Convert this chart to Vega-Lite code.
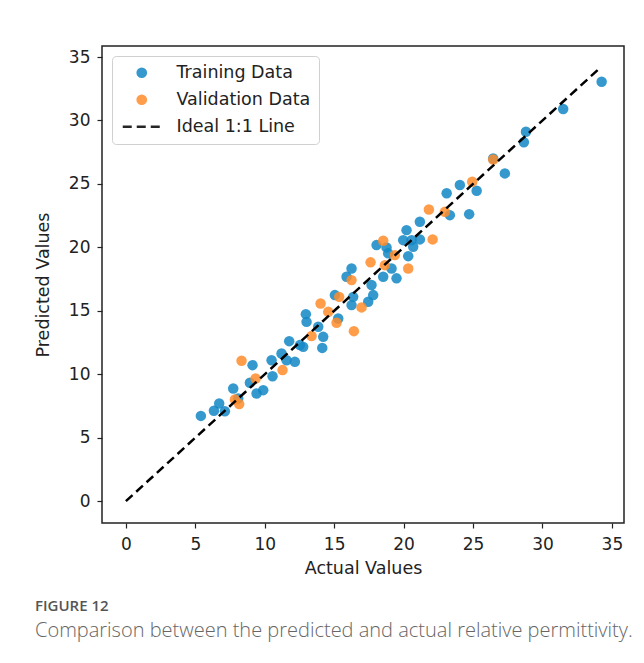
{
  "$schema": "https://vega.github.io/schema/vega-lite/v6.json",
  "autosize": "none",
  "width": 522,
  "height": 477,
  "padding": {"left": 102, "top": 46, "right": 20, "bottom": 140},
  "background": "white",
  "title": {
    "text": "FIGURE 12",
    "subtitle": "Comparison between the predicted and actual relative permittivity.",
    "orient": "bottom",
    "anchor": "start",
    "frame": "group",
    "dx": -67,
    "offset": 22,
    "font": "Open Sans",
    "fontSize": 15,
    "fontWeight": 600,
    "color": "#555555",
    "subtitleFont": "Open Sans",
    "subtitleFontSize": 20,
    "subtitleFontWeight": 300,
    "subtitleColor": "#666666",
    "subtitlePadding": 7
  },
  "datasets": {
    "pts": [
      {"actual": 5.40, "predicted": 6.72, "series": "Training Data"},
      {"actual": 6.34, "predicted": 7.12, "series": "Training Data"},
      {"actual": 6.72, "predicted": 7.70, "series": "Training Data"},
      {"actual": 7.13, "predicted": 7.09, "series": "Training Data"},
      {"actual": 7.73, "predicted": 8.88, "series": "Training Data"},
      {"actual": 8.09, "predicted": 8.10, "series": "Training Data"},
      {"actual": 8.93, "predicted": 9.33, "series": "Training Data"},
      {"actual": 9.12, "predicted": 10.72, "series": "Training Data"},
      {"actual": 9.41, "predicted": 8.49, "series": "Training Data"},
      {"actual": 9.89, "predicted": 8.75, "series": "Training Data"},
      {"actual": 10.49, "predicted": 11.11, "series": "Training Data"},
      {"actual": 10.56, "predicted": 9.85, "series": "Training Data"},
      {"actual": 11.21, "predicted": 11.64, "series": "Training Data"},
      {"actual": 11.57, "predicted": 11.11, "series": "Training Data"},
      {"actual": 11.76, "predicted": 12.61, "series": "Training Data"},
      {"actual": 12.17, "predicted": 10.98, "series": "Training Data"},
      {"actual": 12.77, "predicted": 12.16, "series": "Training Data"},
      {"actual": 12.53, "predicted": 12.30, "series": "Training Data"},
      {"actual": 12.96, "predicted": 14.74, "series": "Training Data"},
      {"actual": 13.01, "predicted": 14.13, "series": "Training Data"},
      {"actual": 13.85, "predicted": 13.74, "series": "Training Data"},
      {"actual": 14.14, "predicted": 12.08, "series": "Training Data"},
      {"actual": 14.21, "predicted": 12.95, "series": "Training Data"},
      {"actual": 15.29, "predicted": 14.40, "series": "Training Data"},
      {"actual": 15.05, "predicted": 16.24, "series": "Training Data"},
      {"actual": 16.25, "predicted": 18.34, "series": "Training Data"},
      {"actual": 15.89, "predicted": 17.68, "series": "Training Data"},
      {"actual": 16.25, "predicted": 15.45, "series": "Training Data"},
      {"actual": 16.37, "predicted": 16.10, "series": "Training Data"},
      {"actual": 17.69, "predicted": 17.03, "series": "Training Data"},
      {"actual": 17.81, "predicted": 16.24, "series": "Training Data"},
      {"actual": 17.45, "predicted": 15.71, "series": "Training Data"},
      {"actual": 18.05, "predicted": 20.18, "series": "Training Data"},
      {"actual": 18.77, "predicted": 20.00, "series": "Training Data"},
      {"actual": 18.89, "predicted": 19.53, "series": "Training Data"},
      {"actual": 18.53, "predicted": 17.68, "series": "Training Data"},
      {"actual": 19.13, "predicted": 18.34, "series": "Training Data"},
      {"actual": 19.49, "predicted": 17.56, "series": "Training Data"},
      {"actual": 19.97, "predicted": 20.57, "series": "Training Data"},
      {"actual": 20.21, "predicted": 21.36, "series": "Training Data"},
      {"actual": 20.57, "predicted": 20.57, "series": "Training Data"},
      {"actual": 20.69, "predicted": 20.05, "series": "Training Data"},
      {"actual": 20.33, "predicted": 19.31, "series": "Training Data"},
      {"actual": 21.17, "predicted": 22.02, "series": "Training Data"},
      {"actual": 21.17, "predicted": 20.63, "series": "Training Data"},
      {"actual": 23.10, "predicted": 24.26, "series": "Training Data"},
      {"actual": 23.33, "predicted": 22.54, "series": "Training Data"},
      {"actual": 24.05, "predicted": 24.91, "series": "Training Data"},
      {"actual": 24.72, "predicted": 22.62, "series": "Training Data"},
      {"actual": 25.26, "predicted": 24.46, "series": "Training Data"},
      {"actual": 26.45, "predicted": 27.01, "series": "Training Data"},
      {"actual": 27.29, "predicted": 25.83, "series": "Training Data"},
      {"actual": 28.66, "predicted": 28.28, "series": "Training Data"},
      {"actual": 28.81, "predicted": 29.11, "series": "Training Data"},
      {"actual": 31.49, "predicted": 30.90, "series": "Training Data"},
      {"actual": 34.26, "predicted": 33.05, "series": "Training Data"},
      {"actual": 8.33, "predicted": 11.06, "series": "Validation Data"},
      {"actual": 7.85, "predicted": 8.02, "series": "Validation Data"},
      {"actual": 8.16, "predicted": 7.65, "series": "Validation Data"},
      {"actual": 9.34, "predicted": 9.67, "series": "Validation Data"},
      {"actual": 11.28, "predicted": 10.33, "series": "Validation Data"},
      {"actual": 13.37, "predicted": 13.01, "series": "Validation Data"},
      {"actual": 14.02, "predicted": 15.58, "series": "Validation Data"},
      {"actual": 14.57, "predicted": 14.92, "series": "Validation Data"},
      {"actual": 15.17, "predicted": 14.06, "series": "Validation Data"},
      {"actual": 16.42, "predicted": 13.40, "series": "Validation Data"},
      {"actual": 16.97, "predicted": 15.27, "series": "Validation Data"},
      {"actual": 15.36, "predicted": 16.10, "series": "Validation Data"},
      {"actual": 16.25, "predicted": 17.42, "series": "Validation Data"},
      {"actual": 17.62, "predicted": 18.82, "series": "Validation Data"},
      {"actual": 18.65, "predicted": 18.60, "series": "Validation Data"},
      {"actual": 19.37, "predicted": 19.39, "series": "Validation Data"},
      {"actual": 20.33, "predicted": 18.34, "series": "Validation Data"},
      {"actual": 18.53, "predicted": 20.52, "series": "Validation Data"},
      {"actual": 22.09, "predicted": 20.63, "series": "Validation Data"},
      {"actual": 21.82, "predicted": 22.99, "series": "Validation Data"},
      {"actual": 22.97, "predicted": 22.80, "series": "Validation Data"},
      {"actual": 24.94, "predicted": 25.17, "series": "Validation Data"},
      {"actual": 26.45, "predicted": 26.93, "series": "Validation Data"}
    ],
    "ideal": [
      {"actual": 0, "predicted": 0, "series": "Ideal 1:1 Line"},
      {"actual": 34.15, "predicted": 34.15, "series": "Ideal 1:1 Line"}
    ]
  },
  "encoding": {
    "x": {
      "field": "actual", "type": "quantitative",
      "scale": {"domain": [-1.72, 35.87], "nice": false, "zero": false},
      "axis": {"title": "Actual Values", "values": [0, 5, 10, 15, 20, 25, 30, 35], "labelPadding": 8, "titlePadding": 7}
    },
    "y": {
      "field": "predicted", "type": "quantitative",
      "scale": {"domain": [-1.72, 35.87], "nice": false, "zero": false},
      "axis": {"title": "Predicted Values", "values": [0, 5, 10, 15, 20, 25, 30, 35], "labelPadding": 7, "titlePadding": 16}
    },
    "color": {
      "field": "series", "type": "nominal",
      "scale": {"domain": ["Training Data", "Validation Data", "Ideal 1:1 Line"], "range": ["#1287c6", "#ff8c2a", "#000000"]},
      "legend": {
        "title": null,
        "orient": "top-left",
        "offset": 10,
        "padding": 8,
        "rowPadding": 8,
        "symbolOffset": 13,
        "labelOffset": 26,
        "labelFont": "DejaVu Sans",
        "labelFontSize": 17.5,
        "labelColor": "#222222",
        "strokeColor": "#d0d0d0",
        "fillColor": "white",
        "cornerRadius": 4,
        "symbolSize": 110,
        "encode": {
          "symbols": {
            "update": {
              "shape": {"signal": "datum.value === 'Ideal 1:1 Line' ? 'stroke' : 'circle'"},
              "size": {"signal": "datum.value === 'Ideal 1:1 Line' ? 1444 : 115"},
              "fill": {"signal": "datum.value === 'Ideal 1:1 Line' ? 'transparent' : (datum.value === 'Training Data' ? '#1287c6' : '#ff8c2a')"},
              "stroke": {"signal": "datum.value === 'Ideal 1:1 Line' ? '#000000' : 'transparent'"},
              "strokeWidth": {"signal": "datum.value === 'Ideal 1:1 Line' ? 2.5 : 0"},
              "strokeDash": {"signal": "datum.value === 'Ideal 1:1 Line' ? [9, 5] : []"},
              "opacity": {"value": 0.85}
            }
          }
        }
      }
    }
  },
  "layer": [
    {
      "data": {"name": "pts"},
      "mark": {"type": "point", "filled": true, "size": 110, "opacity": 0.85}
    },
    {
      "data": {"name": "ideal"},
      "mark": {"type": "line", "strokeWidth": 2.5, "strokeDash": [9, 5]}
    }
  ],
  "config": {
    "view": {"stroke": "#222222", "strokeWidth": 1.5},
    "axis": {
      "domain": false, "grid": false,
      "tickColor": "#222222", "tickSize": 5, "tickWidth": 1.2,
      "labelFont": "DejaVu Sans", "labelFontSize": 17, "labelColor": "#222222",
      "titleFont": "DejaVu Sans", "titleFontSize": 17.5, "titleFontWeight": "normal", "titleColor": "#222222"
    }
  }
}
